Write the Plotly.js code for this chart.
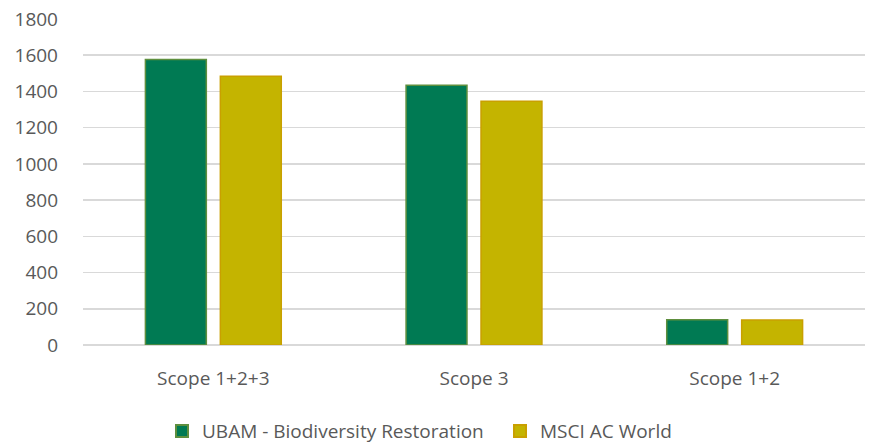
<!DOCTYPE html>
<html>
<head>
<meta charset="utf-8">
<script src="https://cdn.plot.ly/plotly-3.0.1.min.js"></script>
<style>
  html, body { margin: 0; padding: 0; background: #fff; }
  #chart { width: 871px; height: 443px; }
</style>
</head>
<body>
<div id="chart"></div>
<script>
// Emission scopes compared for the fund and its benchmark
const categories = ["Scope 1+2+3", "Scope 3", "Scope 1+2"];
const ubamValues = [1576, 1434, 140];
const msciValues = [1484, 1346, 138];
const seriesNames = ["UBAM - Biodiversity Restoration", "MSCI AC World"];
const yTicks = [0, 200, 400, 600, 800, 1000, 1200, 1400, 1600, 1800];

const font = { family: "Open Sans, Liberation Sans, sans-serif", size: 19, color: "#595959" };

const traces = [
  {
    type: "bar", name: seriesNames[0], x: categories, y: ubamValues,
    marker: { color: "#007A53", line: { color: "#5E8F3E", width: 1.5 } },
    hoverinfo: "none"
  },
  {
    type: "bar", name: seriesNames[1], x: categories, y: msciValues,
    marker: { color: "#C4B400", line: { color: "#C9A000", width: 1.5 } },
    hoverinfo: "none"
  }
];

const layout = {
  width: 871, height: 443,
  margin: { l: 83, r: 6, t: 19, b: 98, autoexpand: false },
  paper_bgcolor: "#fff", plot_bgcolor: "#fff",
  font: font,
  barmode: "group", bargap: 0.425, bargroupgap: 0.187,
  showlegend: true,
  legend: {
    orientation: "h", xref: "container", yref: "container",
    x: 0.186, xanchor: "left", y: 0.027, yanchor: "middle",
    font: font, itemsizing: "constant", entrywidth: 293
  },
  xaxis: {
    type: "category", showgrid: false, zeroline: false, showline: false,
    ticks: "", ticklabelstandoff: 20, tickfont: font
  },
  yaxis: {
    range: [0, 1800], tickvals: yTicks, ticktext: yTicks.map(String),
    showgrid: true, gridcolor: "#D9D9D9", gridwidth: 1.5,
    zeroline: true, zerolinecolor: "#D9D9D9", zerolinewidth: 1.5,
    showline: false, ticks: "", ticklabelstandoff: 24, tickfont: font
  }
};

Plotly.newPlot("chart", traces, layout, { displayModeBar: false, staticPlot: true });
</script>
</body>
</html>
